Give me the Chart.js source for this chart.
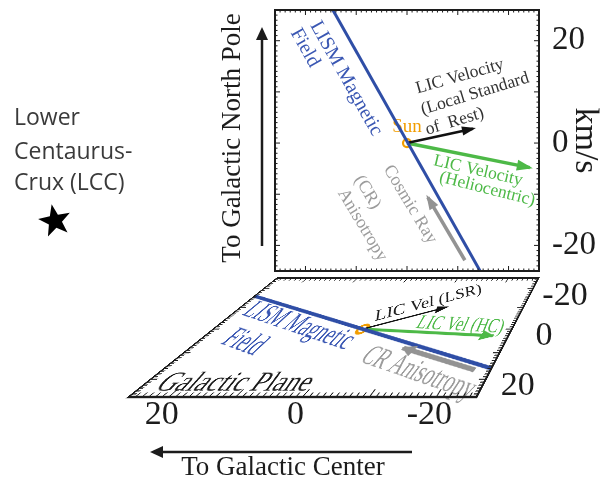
<!DOCTYPE html>
<html lang="en">
<head>
<meta charset="UTF-8">
<title>LIC velocity, LISM field and cosmic ray anisotropy</title>
<script src="https://cdn.jsdelivr.net/npm/chart.js"></script>
<style>
  html, body { margin: 0; padding: 0; background: #fff; }
  #wrap { position: relative; width: 615px; height: 478px; overflow: hidden; }
  #mainChart { position: absolute; left: 0; top: 0; }
  #planeChart { position: absolute; left: 0; top: 0; transform-origin: 0 0; }
</style>
</head>
<body>
<div id="wrap">
  <canvas id="mainChart" width="615" height="478"></canvas>
  <canvas id="planeChart" width="612" height="272"></canvas>
</div>
<script>
// velocities in km/s, sun at the origin
const sunPos = [{x: 0, y: 0}];
// side view (towards north galactic pole)
const fieldSide = [{x: 14.6, y: 26}, {x: -14.4, y: -25}];
const licLsrSide = [{x: 0, y: 0}, {x: -13.0, y: 2.8}];
const licHcSide = [{x: 0, y: 0}, {x: -24.2, y: -4.8}];
const crSide = [{x: -11.4, y: -22.9}, {x: -4.1, y: -10.6}];
// galactic plane view
const fieldPlane = [{x: 26, y: -16}, {x: -26, y: 16}];
const licLsrPlane = [{x: 0, y: 0}, {x: -12.0, y: -10.4}];
const licHcPlane = [{x: 0, y: 0}, {x: -23.4, y: 3.0}];
const crPlane = [{x: -23.5, y: 16.6}, {x: -9.5, y: 8.0}];
// tick labels
const vTicks = [20, 0, -20];
const planeXTicks = [20, 0, -20];
const planeYTicks = [-20, 0, 20];

const SERIF = '"Liberation Serif", "DejaVu Serif", serif';
const SANS = '"Open Sans", "Noto Sans", sans-serif';
const BLUE = '#2f4ea6', BLUE_TXT = '#3a57b3';
const GREEN = '#4db947', ORANGE = '#f29d00', GRAY = '#939393', GRAY_TXT = '#9c9c9c';
const INK = '#1c1c1c';

Chart.defaults.font.family = SERIF;

// corners of the galactic plane panel on the page: TL, TR, BR, BL
const planeQuad = [[277, 278], [538.5, 278], [476.5, 397], [128.5, 397]];

function squareToQuad(q) {
  const [p0, p1, p2, p3] = q;
  const dx1 = p1[0] - p2[0], dx2 = p3[0] - p2[0], dx3 = p0[0] - p1[0] + p2[0] - p3[0];
  const dy1 = p1[1] - p2[1], dy2 = p3[1] - p2[1], dy3 = p0[1] - p1[1] + p2[1] - p3[1];
  const den = dx1 * dy2 - dx2 * dy1;
  const g = (dx3 * dy2 - dx2 * dy3) / den, h = (dx1 * dy3 - dx3 * dy1) / den;
  return [
    [p1[0] - p0[0] + g * p1[0], p3[0] - p0[0] + h * p3[0], p0[0]],
    [p1[1] - p0[1] + g * p1[1], p3[1] - p0[1] + h * p3[1], p0[1]],
    [g, h, 1]
  ];
}

function mul3(a, b) {
  const r = [[0, 0, 0], [0, 0, 0], [0, 0, 0]];
  for (let i = 0; i < 3; i++)
    for (let j = 0; j < 3; j++)
      for (let k = 0; k < 3; k++) r[i][j] += a[i][k] * b[k][j];
  return r;
}

function framePlugin(lw, minorLen, majorLen) {
  return {
    id: 'frame',
    afterDatasetsDraw(chart) {
      const {ctx, chartArea: a, scales: {x, y}} = chart;
      ctx.save();
      ctx.strokeStyle = INK;
      ctx.lineWidth = Math.max(1, lw / 2);
      ctx.beginPath();
      for (let v = Math.ceil(Math.min(x.min, x.max)); v <= Math.max(x.min, x.max); v++) {
        const len = v % 10 === 0 ? majorLen : minorLen;
        const px = x.getPixelForValue(v);
        ctx.moveTo(px, a.top); ctx.lineTo(px, a.top + len);
        ctx.moveTo(px, a.bottom); ctx.lineTo(px, a.bottom - len);
      }
      for (let v = Math.ceil(Math.min(y.min, y.max)); v <= Math.max(y.min, y.max); v++) {
        const len = v % 10 === 0 ? majorLen : minorLen;
        const py = y.getPixelForValue(v);
        ctx.moveTo(a.left, py); ctx.lineTo(a.left + len, py);
        ctx.moveTo(a.right, py); ctx.lineTo(a.right - len, py);
      }
      ctx.stroke();
      ctx.lineWidth = lw;
      ctx.strokeRect(a.left, a.top, a.right - a.left, a.bottom - a.top);
      ctx.restore();
    }
  };
}

const arrowPlugin = {
  id: 'arrowHeads',
  afterDatasetsDraw(chart) {
    const ctx = chart.ctx;
    chart.data.datasets.forEach((ds, i) => {
      if (!ds.arrowHead) return;
      const pts = chart.getDatasetMeta(i).data;
      const a = pts[pts.length - 2], b = pts[pts.length - 1];
      const ang = Math.atan2(b.y - a.y, b.x - a.x);
      const L = ds.arrowHead, W = L * 0.42;
      ctx.save();
      ctx.translate(b.x, b.y);
      ctx.rotate(ang);
      ctx.fillStyle = ds.borderColor;
      ctx.beginPath();
      ctx.moveTo(3, 0);
      ctx.lineTo(-L, -W);
      ctx.lineTo(-L, W);
      ctx.closePath();
      ctx.fill();
      ctx.restore();
    });
  }
};

function labelPlugin(items) {
  return {
    id: 'labels',
    beforeDatasetsDraw(chart) {
      const {ctx, scales: {x, y}} = chart;
      items.forEach(it => {
        ctx.save();
        ctx.translate(x.getPixelForValue(it.x), y.getPixelForValue(it.y));
        ctx.rotate(it.rot * Math.PI / 180);
        // counter-shear / stretch for text that is later put in perspective
        ctx.transform(1, 0, it.shear || 0, it.stretch || 1, 0, 0);
        ctx.font = it.size + 'px ' + SERIF;
        ctx.fillStyle = it.color;
        ctx.textAlign = 'center';
        ctx.textBaseline = 'middle';
        ctx.fillText(it.text, 0, 0);
        ctx.restore();
      });
    }
  };
}

const sideLabels = [
  {text: 'LISM Magnetic', x: 12.0, y: 12.6, rot: 60.6, size: 20, color: BLUE_TXT},
  {text: 'Field', x: 20.1, y: 18.6, rot: 60.6, size: 20, color: BLUE_TXT},
  {text: 'LIC Velocity', x: -10.4, y: 13.0, rot: -16, size: 17.5, color: '#333'},
  {text: '(Local Standard', x: -13.4, y: 9.6, rot: -17, size: 17.5, color: '#333'},
  {text: 'of  Rest)', x: -9.4, y: 4.2, rot: -17, size: 17.5, color: '#333'},
  {text: 'Sun', x: 0, y: 3.2, rot: 0, size: 19, color: ORANGE},
  {text: 'LIC Velocity', x: -14.0, y: -5.4, rot: 13, size: 17.5, color: GREEN},
  {text: '(Heliocentric)', x: -15.8, y: -9.0, rot: 14, size: 17.5, color: GREEN},
  {text: 'Cosmic Ray', x: -0.6, y: -12.0, rot: 59, size: 18, color: GRAY_TXT},
  {text: '(CR)', x: 7.8, y: -9.6, rot: 59, size: 18, color: GRAY_TXT},
  {text: 'Anisotropy', x: 8.8, y: -16.0, rot: 59, size: 18, color: GRAY_TXT}
];

const planeLabels = [
  {text: 'LISM Magnetic', x: 12.1, y: -1.8, rot: 14.9, size: 44, color: BLUE_TXT, shear: 0.3, stretch: 1.1},
  {text: 'Field', x: 18.0, y: 5.8, rot: 14.9, size: 44, color: BLUE_TXT, shear: 0.3, stretch: 1.1},
  {text: 'Galactic Plane', x: 12.1, y: 21.3, rot: 0, size: 45, color: INK, shear: 0.25},
  {text: 'LIC Vel (LSR)', x: -8.2, y: -12.7, rot: -20.6, size: 32, color: INK, shear: 0.3, stretch: 1.3},
  {text: 'LIC Vel (HC)', x: -16.6, y: -1.8, rot: 3.2, size: 32, color: GREEN, shear: 0.3, stretch: 1.3},
  {text: 'CR Anisotropy', x: -14.6, y: 17.4, rot: 14.9, size: 40, color: GRAY_TXT, shear: 0.2, stretch: 1.15}
];

function lineSet(data, color, width, head) {
  return {data: data, showLine: true, borderColor: color, backgroundColor: color,
          borderWidth: width, pointRadius: 0, arrowHead: head};
}

// ---- galactic plane panel, drawn flat then put in perspective with css ----
const planeChart = new Chart(document.getElementById('planeChart'), {
  type: 'scatter',
  data: {
    datasets: [
      lineSet(fieldPlane, BLUE, 6.5, 0),
      lineSet(licLsrPlane, '#111', 3.5, 20),
      lineSet(licHcPlane, GREEN, 6, 24),
      lineSet(crPlane, GRAY, 8, 24),
      {data: sunPos, pointRadius: 9, pointBorderWidth: 5, pointBorderColor: ORANGE, pointBackgroundColor: '#fff'}
    ]
  },
  options: {
    responsive: false,
    animation: false,
    layout: {padding: 6},
    plugins: {legend: {display: false}, tooltip: {enabled: false}},
    scales: {
      x: {type: 'linear', min: -26, max: 26, reverse: true, display: false},
      y: {type: 'linear', min: -26, max: 26, reverse: true, display: false}
    }
  },
  plugins: [framePlugin(4, 7, 12), arrowPlugin, labelPlugin(planeLabels)]
});

const pa = planeChart.chartArea;
const toUnit = [[1 / (pa.right - pa.left), 0, -pa.left / (pa.right - pa.left)],
                [0, 1 / (pa.bottom - pa.top), -pa.top / (pa.bottom - pa.top)],
                [0, 0, 1]];
const H = mul3(squareToQuad(planeQuad), toUnit);
document.getElementById('planeChart').style.transform =
  'matrix3d(' + [H[0][0], H[1][0], 0, H[2][0], H[0][1], H[1][1], 0, H[2][1],
                 0, 0, 1, 0, H[0][2], H[1][2], 0, H[2][2]].join(',') + ')';

function planeToPage(xv, yv) {
  const px = planeChart.scales.x.getPixelForValue(xv);
  const py = planeChart.scales.y.getPixelForValue(yv);
  const w = H[2][0] * px + H[2][1] * py + H[2][2];
  return [(H[0][0] * px + H[0][1] * py + H[0][2]) / w, (H[1][0] * px + H[1][1] * py + H[1][2]) / w];
}

function drawArrow(ctx, x0, y0, x1, y1, lw, L, W) {
  const ang = Math.atan2(y1 - y0, x1 - x0);
  ctx.save();
  ctx.lineWidth = lw;
  ctx.beginPath();
  ctx.moveTo(x0, y0);
  ctx.lineTo(x1 - Math.cos(ang) * L * 0.8, y1 - Math.sin(ang) * L * 0.8);
  ctx.stroke();
  ctx.translate(x1, y1);
  ctx.rotate(ang);
  ctx.beginPath();
  ctx.moveTo(0, 0);
  ctx.lineTo(-L, -W);
  ctx.lineTo(-L, W);
  ctx.closePath();
  ctx.fill();
  ctx.restore();
}

const outsidePlugin = {
  id: 'outside',
  afterDraw(chart) {
    const ctx = chart.ctx;
    ctx.save();
    ctx.fillStyle = INK;
    ctx.strokeStyle = INK;

    // north pole direction
    ctx.save();
    ctx.translate(233, 138);
    ctx.rotate(-Math.PI / 2);
    ctx.font = '27px ' + SERIF;
    ctx.textAlign = 'center';
    ctx.textBaseline = 'middle';
    ctx.fillText('To Galactic North Pole', 0, 0);
    ctx.restore();
    drawArrow(ctx, 262, 246, 262, 27, 2.5, 13, 6);

    // galactic center direction
    ctx.font = '27px ' + SERIF;
    ctx.textAlign = 'center';
    ctx.textBaseline = 'alphabetic';
    ctx.fillText('To Galactic Center', 283, 475);
    drawArrow(ctx, 412, 452, 150, 452, 2.5, 13, 6);

    // LCC star
    ctx.fillStyle = '#3a3a3a';
    ctx.font = '23px ' + SANS;
    ctx.textAlign = 'left';
    ctx.fillText('Lower', 14, 125);
    ctx.fillText('Centaurus-', 14, 159);
    ctx.fillText('Crux (LCC)', 14, 190);
    ctx.fillStyle = '#000';
    ctx.beginPath();
    for (let k = 0; k < 10; k++) {
      const r = k % 2 === 0 ? 17 : 7;
      const a = -Math.PI / 2 - 0.2 + k * Math.PI / 5;
      const px = 55 + r * Math.cos(a), py = 221 + r * Math.sin(a);
      if (k === 0) ctx.moveTo(px, py); else ctx.lineTo(px, py);
    }
    ctx.closePath();
    ctx.fill();

    // tick labels of the galactic plane panel
    ctx.fillStyle = INK;
    ctx.font = '34px ' + SERIF;
    ctx.textAlign = 'center';
    ctx.textBaseline = 'middle';
    planeXTicks.forEach(v => {
      const [px, py] = planeToPage(v, 26);
      ctx.fillText(String(v), px - 7, py + 18);
    });
    planeYTicks.forEach(v => {
      const [px, py] = planeToPage(-26, v);
      ctx.fillText(String(v), px + 32, py + 7);
    });
    ctx.restore();
  }
};

// ---- side view panel ----
new Chart(document.getElementById('mainChart'), {
  type: 'scatter',
  data: {
    datasets: [
      lineSet(fieldSide, BLUE, 3, 0),
      lineSet(licLsrSide, '#111', 2.5, 11),
      lineSet(licHcSide, GREEN, 3.5, 13),
      lineSet(crSide, GRAY, 3.5, 12),
      {data: sunPos, pointRadius: 4, pointBorderWidth: 2.2, pointBorderColor: ORANGE, pointBackgroundColor: '#fff'}
    ]
  },
  options: {
    responsive: false,
    animation: false,
    layout: {padding: {left: 275, top: 10, right: 0, bottom: 207}},
    plugins: {legend: {display: false}, tooltip: {enabled: false}},
    scales: {
      x: {type: 'linear', min: -26, max: 26, reverse: true, display: false},
      y: {
        type: 'linear', position: 'right', min: -25, max: 26,
        afterFit: s => { s.width = 76; s.paddingTop = 0; s.paddingBottom = 0; },
        afterBuildTicks: s => { s.ticks = vTicks.map(v => ({value: v})); },
        grid: {display: false, drawTicks: false},
        border: {display: false},
        ticks: {padding: 13, color: INK, font: {family: SERIF, size: 33}},
        title: {display: true, text: 'km/s', color: INK, padding: {top: 10, bottom: 0},
                font: {family: SERIF, size: 34}}
      }
    }
  },
  plugins: [framePlugin(2, 2.5, 5), arrowPlugin, labelPlugin(sideLabels), outsidePlugin]
});
</script>
</body>
</html>
